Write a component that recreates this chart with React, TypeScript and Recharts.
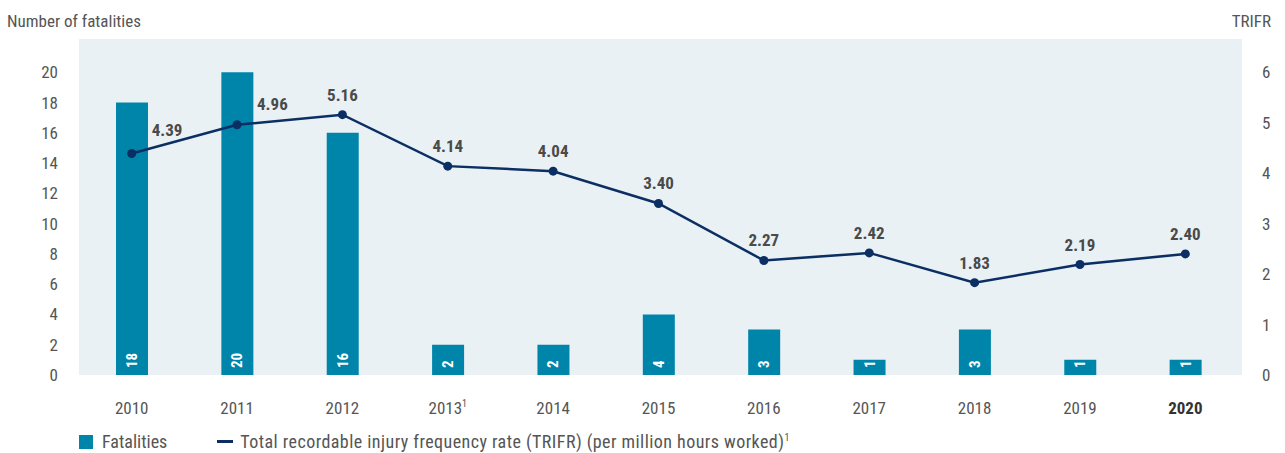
import React from "react";
import {
  ComposedChart,
  Bar,
  Line,
  XAxis,
  YAxis,
  CartesianGrid,
  LabelList,
} from "recharts";

const years = ["2010", "2011", "2012", "2013", "2014", "2015", "2016", "2017", "2018", "2019", "2020"];
const fatalities = [18, 20, 16, 2, 2, 4, 3, 1, 3, 1, 1];
const trifr = [4.39, 4.96, 5.16, 4.14, 4.04, 3.4, 2.27, 2.42, 1.83, 2.19, 2.4];
const leftTicks = [0, 2, 4, 6, 8, 10, 12, 14, 16, 18, 20];
const rightTicks = [0, 1, 2, 3, 4, 5, 6];

const data = years.map((year, i) => ({
  year,
  fatalities: fatalities[i],
  trifr: trifr[i],
}));

const FONT = "'Roboto Condensed', Roboto, sans-serif";
const TEXT = "#555555";
const BAR = "#0085aa";
const LINE = "#0b2e63";

// a footnote marker goes on 2013, the current year is bold
const XTick = ({ x, y, payload }: any) => {
  const v = payload.value;
  const bold = v === "2020";
  return (
    <text x={x} y={y + 31} textAnchor="middle" fontSize={17} fontFamily={FONT}
      fontWeight={bold ? 700 : 400} fill={bold ? "#333" : TEXT}>
      {v}
      {v === "2013" && (
        <tspan fontSize={10} dy={-7}>1</tspan>
      )}
    </text>
  );
};

const BarValue = (props: any) => {
  const { x, y, width, height, value } = props;
  const cx = x + width / 2;
  const by = y + height - 7;
  return (
    <text
      x={cx}
      y={by}
      transform={`rotate(-90 ${cx} ${by})`}
      dy={5}
      textAnchor="start"
      fill="#ffffff"
      fontSize={15}
      fontWeight={700}
      fontFamily={FONT}
    >
      {value}
    </text>
  );
};

const LineValue = (props: any) => {
  const { x, y, value, index } = props;
  const side = index < 2;
  return (
    <text
      x={side ? x + 20 : x}
      y={side ? y - (index === 0 ? 18 : 15) : y - 14}
      textAnchor={side ? "start" : "middle"}
      fill="#4a4a4a"
      fontSize={17}
      fontWeight={700}
      fontFamily={FONT}
    >
      {value.toFixed(2)}
    </text>
  );
};

export default function App() {
  return (
    <div style={{ position: "absolute", left: 0, top: 0, width: 1285, height: 453, background: "#fff", fontFamily: FONT }}>
      <div style={{ position: "absolute", left: 7, top: 11, fontSize: 17, color: TEXT }}>Number of fatalities</div>
      <div style={{ position: "absolute", right: 14, top: 11, fontSize: 17, color: TEXT }}>TRIFR</div>
      <ComposedChart
        width={1285}
        height={453}
        data={data}
        margin={{ top: 39, right: 0, bottom: 0, left: 0 }}
        barCategoryGap={0}
      >
        <CartesianGrid fill="#e9f1f5" stroke="none" vertical={false} horizontal={false} />
        <XAxis
          dataKey="year"
          height={78}
          axisLine={false}
          tickLine={false}
          interval={0}
          padding={{ left: 0, right: 4 }}
          tick={<XTick />}
        />
        <YAxis
          yAxisId="left"
          width={79}
          domain={[0, 22.2]}
          ticks={leftTicks}
          axisLine={false}
          tickLine={false}
          tickSize={0}
          tickMargin={21}
          tick={{ fill: TEXT, fontSize: 17, fontFamily: FONT }}
        />
        <YAxis
          yAxisId="right"
          orientation="right"
          width={43}
          domain={[0, 6.66]}
          ticks={rightTicks}
          axisLine={false}
          tickLine={false}
          tickSize={0}
          tickMargin={20}
          tick={{ fill: TEXT, fontSize: 17, fontFamily: FONT, textAnchor: "start" }}
        />
        <Bar yAxisId="left" dataKey="fatalities" fill={BAR} barSize={32} isAnimationActive={false}>
          <LabelList dataKey="fatalities" content={<BarValue />} />
        </Bar>
        <Line
          yAxisId="right"
          dataKey="trifr"
          stroke={LINE}
          strokeWidth={2.5}
          dot={{ r: 4.5, fill: LINE, stroke: LINE, strokeWidth: 0 }}
          isAnimationActive={false}
        >
          <LabelList dataKey="trifr" content={<LineValue />} />
        </Line>
      </ComposedChart>
      <div style={{ position: "absolute", left: 79, top: 431, display: "flex", alignItems: "center", fontSize: 18, color: TEXT, whiteSpace: "nowrap" }}>
        <span style={{ width: 14, height: 14, background: BAR, display: "inline-block", marginRight: 9 }} />
        <span style={{ marginRight: 50 }}>Fatalities</span>
        <span style={{ width: 16, height: 3, background: LINE, display: "inline-block", marginRight: 7 }} />
        <span style={{ letterSpacing: 0.45 }}>
          Total recordable injury frequency rate (TRIFR) (per million hours worked)
          <sup style={{ fontSize: 10 }}>1</sup>
        </span>
      </div>
    </div>
  );
}
